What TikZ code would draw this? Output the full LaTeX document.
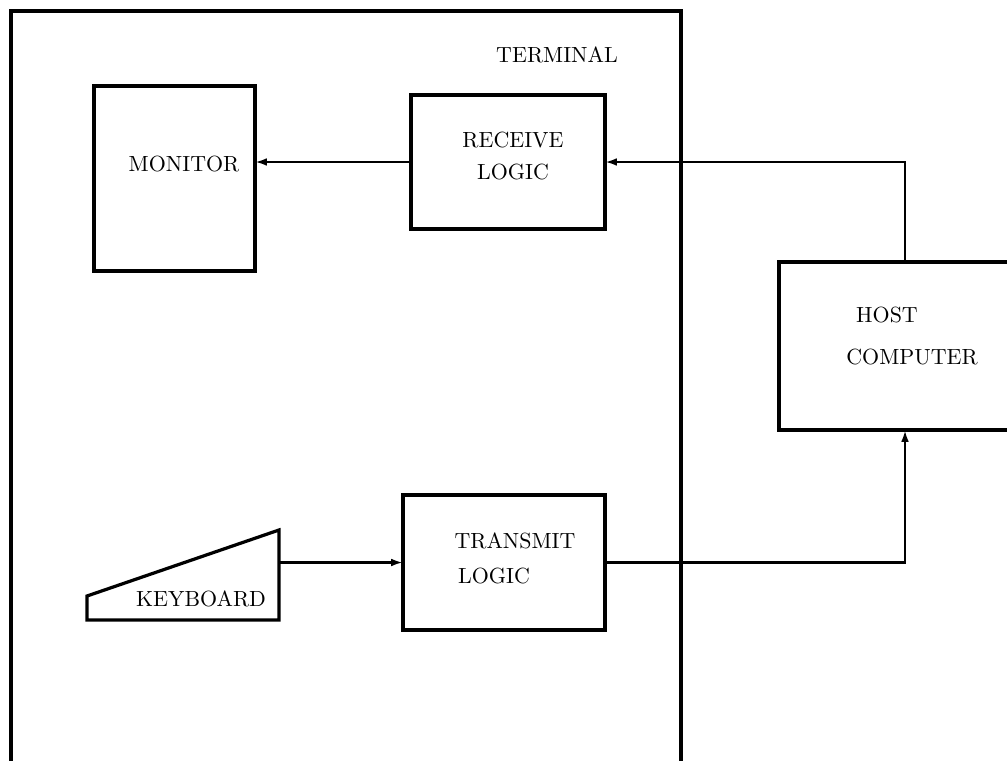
\documentclass[tikz,border=0pt]{standalone}
\usetikzlibrary{arrows.meta}
\begin{document}
\begin{tikzpicture}[x=0.465pt,y=-0.465pt,
  boxline/.style={line width=1.5pt},
  blk/.style={draw,boxline,inner sep=0pt,outer sep=0pt},
  conn/.style={line width=1.2pt,-{Latex[length=5.5pt,width=3.6pt]}},
  lbl/.style={inner sep=0pt,font=\fontsize{10.2}{12}\selectfont}]
\useasboundingbox (0,0) rectangle (1007,760);
\clip (0,0) rectangle (1007,760);
% terminal frame
\draw[boxline] (11,790) -- (11,11) -- (681,11) -- (681,790);
\node[lbl] (term) at (557,55) {TERMINAL};
% monitor
\node[blk,minimum width=161*0.465pt,minimum height=185*0.465pt] (mon) at (174.5,178.5) {};
\node[lbl] (monl) at (184,164) {MONITOR};
% receive logic
\node[blk,minimum width=194*0.465pt,minimum height=134*0.465pt] (recv) at (508,162) {};
\node[lbl] (recvl1) at (513,140) {RECEIVE};
\node[lbl] (recvl2) at (513,172) {LOGIC};
% host computer
\node[blk,minimum width=252*0.465pt,minimum height=168*0.465pt] (host) at (905,346) {};
\node[lbl] (hostl1) at (887,315) {HOST};
\node[lbl] (hostl2) at (912,357) {COMPUTER};
% transmit logic
\node[blk,minimum width=202*0.465pt,minimum height=135*0.465pt] (xmit) at (504,562.5) {};
\node[lbl] (xmitl1) at (515,541) {TRANSMIT};
\node[lbl] (xmitl2) at (494,576) {LOGIC};
% keyboard
\draw[boxline,line join=miter] (87,620) -- (87,596) -- (279,530) -- (279,620) -- cycle;
\coordinate (kb) at (279,562.5);
\node[lbl] (kbl) at (201,599) {KEYBOARD};
% connectors
\draw[conn] (recv.west) -- (recv.west -| mon.east);
\draw[conn] (host.north) |- (recv.east);
\draw[conn] (kb) -- (xmit.west);
\draw[conn] (xmit.east) -| (host.south);
\end{tikzpicture}
\end{document}
